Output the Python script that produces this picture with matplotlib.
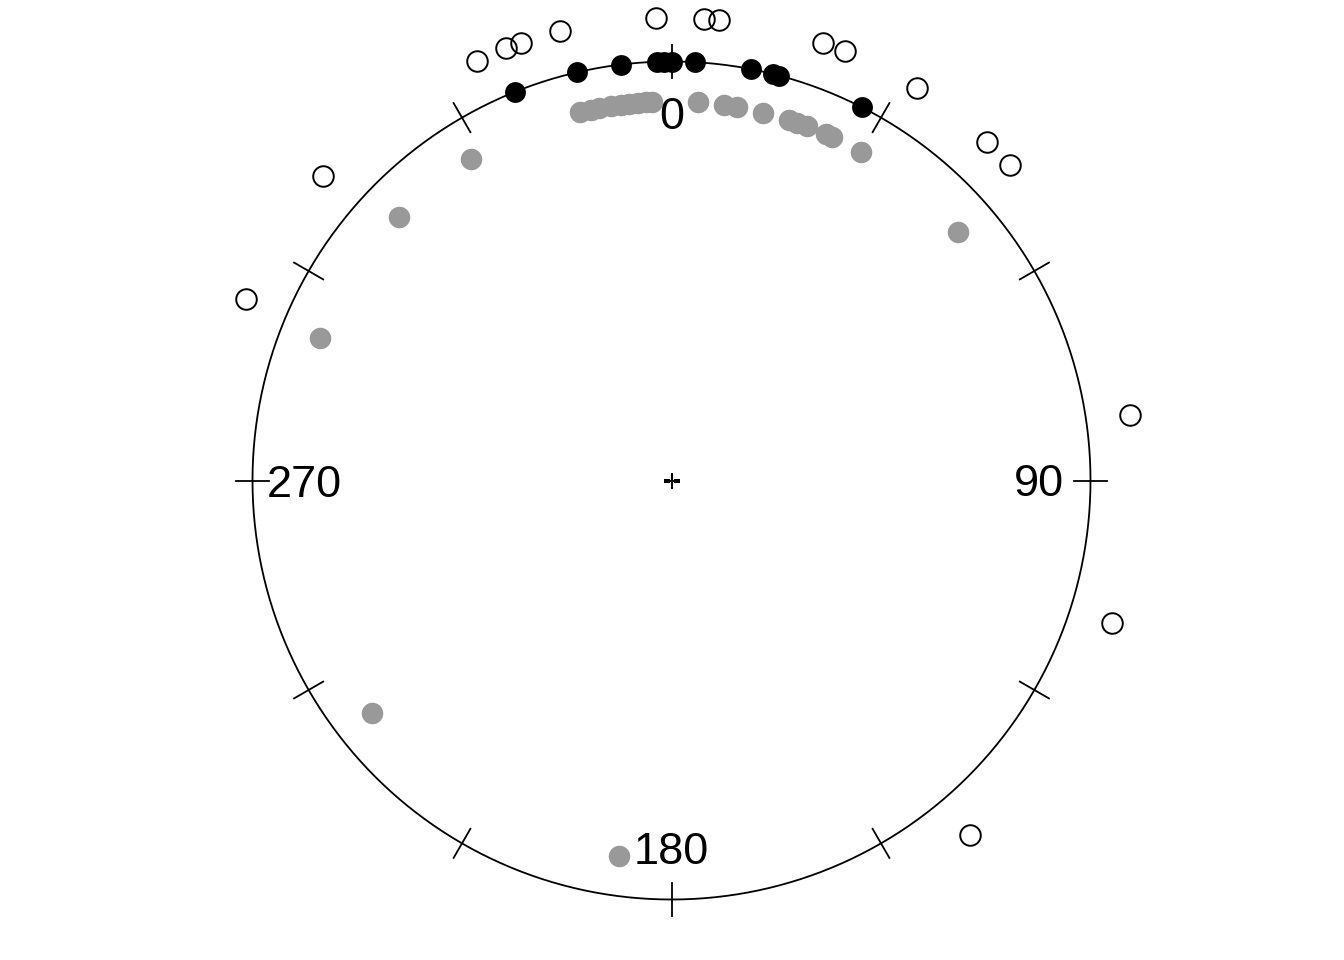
"""Circular data plot: three sets of directions (degrees, clockwise from north)."""

import numpy as np
import matplotlib
matplotlib.use("Agg")
import matplotlib.pyplot as plt

plt.rcParams["font.family"] = ["Liberation Sans", "DejaVu Sans"]

# directions in degrees, 0 = north, clockwise
outer_deg = [335.1, 339.1, 341.0, 346.1, 358.1, 4.0, 5.9, 19.1, 22.0, 32.0,
             43.0, 47.0, 81.9, 107.9, 139.9, 311.1, 293.1]
on_circle_deg = [338.1, 347.0, 353.1, 358.0, 359.0, 0.1, 3.2, 11.0, 14.0,
                 14.9, 27.0]
inner_deg = [346.1, 347.8, 349.0, 350.8, 352.4, 353.6, 355.0, 356.2, 357.0,
             4.0, 8.0, 9.9, 14.0, 18.1, 19.3, 21.0, 24.1, 25.0, 30.0, 49.0,
             328.1, 314.1, 292.1, 232.1, 188.0]

tick_deg = [0, 30, 60, 90, 120, 150, 180, 210, 240, 270, 300, 330]
label_deg = [0, 90, 180, 270]
label_txt = ["0", "90", "180", "270"]

R_OUTER = 1.105
R_INNER = 0.905
R_LABEL = 0.877

W, H = 1344, 960
DPI = 100
CX, CY = 671.5, 480.5   # circle centre in pixels (from top-left)
R_PX = 419               # unit circle radius in pixels
RMAX = 1.2


def main():
    fig = plt.figure(figsize=(W / DPI, H / DPI), dpi=DPI)
    half = RMAX * R_PX
    ax = fig.add_axes([(CX - half) / W, (H - CY - half) / H,
                       2 * half / W, 2 * half / H], projection="polar")
    ax.set_theta_zero_location("N")
    ax.set_theta_direction(-1)
    ax.set_rlim(0, RMAX)
    ax.axis("off")

    t = np.linspace(0, 2 * np.pi, 721)
    ax.plot(t, np.ones_like(t), color="black", lw=1.3)

    for d in tick_deg:
        th = np.deg2rad(d)
        ax.plot([th, th], [0.96, 1.04], color="black", lw=1.3)

    for d, s in zip(label_deg, label_txt):
        ax.text(np.deg2rad(d), R_LABEL, s, ha="center", va="center_baseline",
                fontsize=32.5)

    ax.plot(0, 0, "+", color="black", ms=11, mew=1.5)

    ax.plot(np.deg2rad(inner_deg), np.full(len(inner_deg), R_INNER), "o",
            color="#999999", ms=15.5, mew=0, clip_on=False)
    ax.plot(np.deg2rad(on_circle_deg), np.ones(len(on_circle_deg)), "o",
            color="black", ms=15, mew=0, clip_on=False)
    ax.plot(np.deg2rad(outer_deg), np.full(len(outer_deg), R_OUTER), "o",
            mfc="none", mec="black", ms=14.8, mew=1.4, clip_on=False)

    fig.savefig("out.png", dpi=DPI)


if __name__ == "__main__":
    main()
